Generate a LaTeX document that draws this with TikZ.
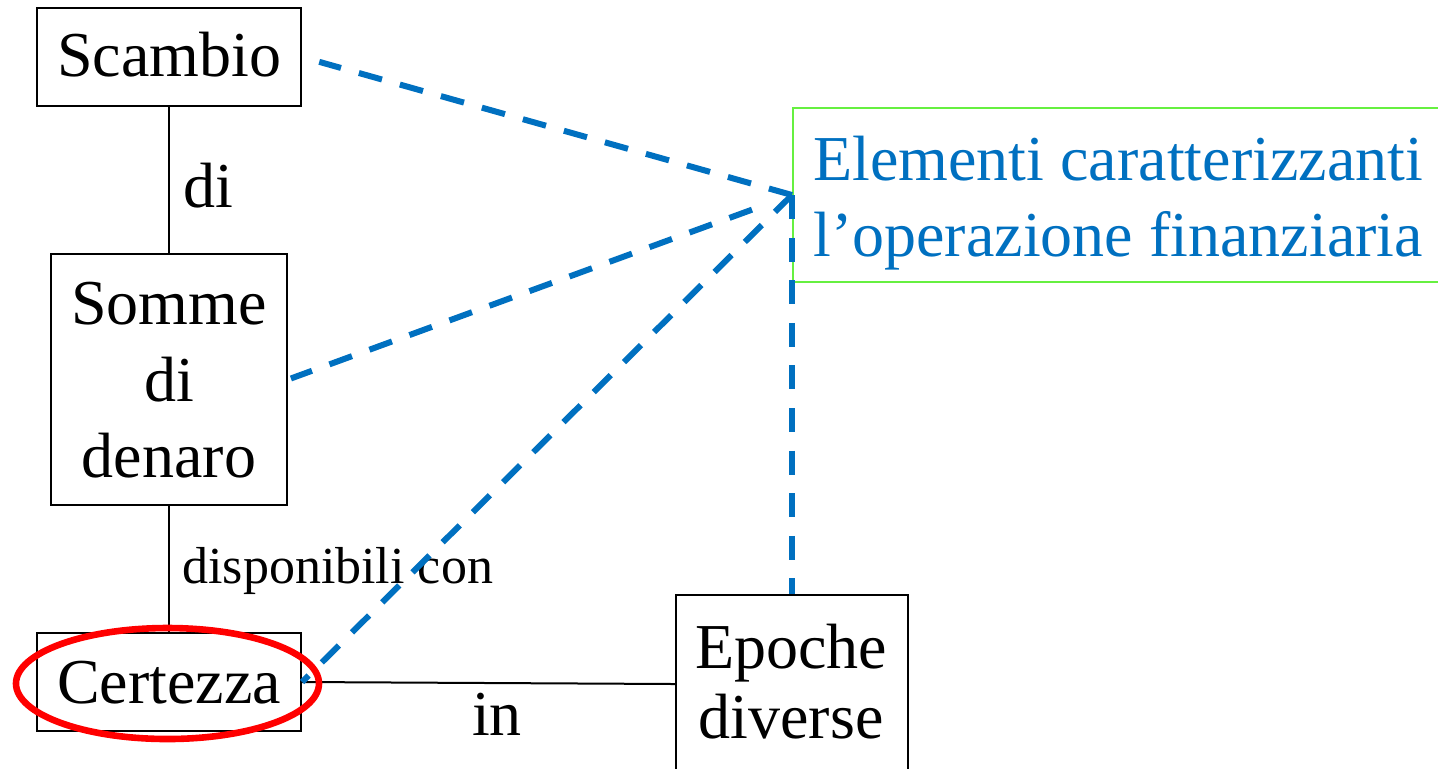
\documentclass[tikz,border=0pt]{standalone}
\usepackage{fontspec}
\setmainfont{Liberation Serif}
\usetikzlibrary{calc}
\definecolor{lineblue}{HTML}{0070C0}
\definecolor{boxgreen}{HTML}{66F040}
\begin{document}
\begin{tikzpicture}[x=0.5pt,y=-0.5pt,
  box/.style={draw=black, line width=1.1pt, inner sep=0pt},
  txt/.style={inner sep=0pt, anchor=base, font=\fontsize{32pt}{38pt}\selectfont},
  smalltxt/.style={inner sep=0pt, anchor=base west, font=\fontsize{26pt}{31pt}\selectfont},
  conn/.style={draw=black, line width=1pt},
  dashln/.style={draw=lineblue, line width=3pt, dash pattern=on 12pt off 9.3pt}]
\useasboundingbox (0,0) rectangle (1438,768);
% boxes
\node[box, minimum width=132pt, minimum height=49pt] (scambio) at (169,57) {};
\node[box, minimum width=118pt, minimum height=125.5pt] (somme) at (169,379.5) {};
\node[box, minimum width=132pt, minimum height=49pt] (certezza) at (169,682) {};
\node[box, minimum width=116pt, minimum height=89pt] (epoche) at (792,684) {};
\node[draw=boxgreen, line width=1pt, inner sep=0pt, minimum width=333.5pt, minimum height=87pt] (elembox) at (1126.5,195) {};
% texts
\node[txt] (scambioT) at (169,76) {Scambio};
\node[txt] (sommeA) at (169,324) {Somme};
\node[txt] (sommeB) at (169,401) {di};
\node[txt] (sommeC) at (169,477) {denaro};
\node[txt] (certezzaT) at (169,703) {Certezza};
\node[txt] (epocheA) at (791,668) {Epoche};
\node[txt] (epocheB) at (791,738) {diverse};
\node[txt, anchor=base west, text=lineblue] (elemA) at (813,180) {Elementi caratterizzanti};
\node[txt, anchor=base west, text=lineblue] (elemB) at (813,256) {l’operazione finanziaria};
% connector labels
\node[txt] (labdi) at (208,207) {di};
\node[smalltxt] (labdisp) at (182,583) {disponibili con};
\node[txt] (labin) at (497,735) {in};
% connectors
\draw[conn] (scambio.south) -- (somme.north);
\draw[conn] (somme.south) -- (certezza.north);
\draw[conn] (certezza.east) -- (epoche.west);
% highlight
\draw[red, line width=3.3pt] (167.5,683.5) ellipse [x radius=151.5, y radius=55.5];
% dashed blue links
\draw[dashln, shorten >=8.9pt] (elembox.west) -- (scambio.east);
\draw[dashln, shorten <=12pt, dash phase=12pt, shorten >=1.5pt] (elembox.west) -- (somme.east);
\draw[dashln] (elembox.west) -- (certezza.east);
\draw[dashln] (elembox.west) -- (elembox.west |- epoche.north);
\end{tikzpicture}
\end{document}
